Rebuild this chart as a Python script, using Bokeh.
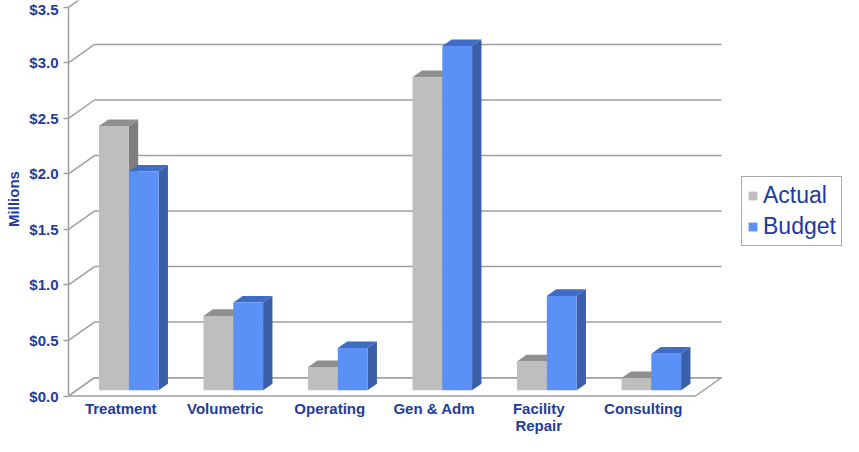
from bokeh.plotting import figure
from bokeh.models import Range1d, FixedTicker, Legend, LegendItem, NumeralTickFormatter
from bokeh.embed import file_html
from bokeh.resources import INLINE

# ---------------- data ----------------
categories = ["Treatment", "Volumetric", "Operating", "Gen & Adm", "Facility Repair", "Consulting"]
tick_labels = ["Treatment", "Volumetric", "Operating", "Gen & Adm", "Facility\nRepair", "Consulting"]
actual = [2.38, 0.67, 0.21, 2.82, 0.26, 0.11]
budget = [1.97, 0.79, 0.38, 3.10, 0.85, 0.33]
series_names = ["Actual", "Budget"]
y_ticks = [0.0, 0.5, 1.0, 1.5, 2.0, 2.5, 3.0, 3.5]

# ---------------- style / geometry ----------------
KX = 104.5          # px per category
KY = 111.9          # px per $1M
DX = 26.0 / KX      # depth of floor (data units)
DY = 18.5 / KY
BAR_F0 = 0.31       # front plane of bars (fraction of depth)
BAR_FD = 0.36       # bar depth (fraction of depth)
BAR_W = 0.285
BAR_OFF = 0.215

front_cols = ["#bebebe", "#5b91f6"]
top_cols = ["#8f8f8f", "#3f6cc4"]
side_cols = ["#7e7e7e", "#3a5ea7"]
grid_col = "#a0a0a0"
text_col = "#1f3c9e"
FONT = "Liberation Sans"

W, H = 843, 436
ML, MB = 66, 36
frame_w = W - ML
frame_h = H - MB
x0 = -2.0 / KX
y0 = -1.5 / KY

p = figure(width=W, height=H, output_backend="svg", toolbar_location=None,
           x_range=Range1d(x0, x0 + frame_w / KX), y_range=Range1d(y0, y0 + frame_h / KY),
           min_border_left=ML, min_border_right=0, min_border_top=0, min_border_bottom=MB)
p.outline_line_color = None
p.xgrid.visible = False
p.ygrid.visible = False
p.background_fill_color = "white"
p.border_fill_color = "white"

n = len(categories)

# floor
p.patch([0, n, n + DX, DX], [0, 0, DY, DY], fill_color="white", line_color=grid_col, line_width=1.5)

# gridlines: left-wall diagonal + back wall
xs, ys = [], []
for t in y_ticks:
    xs.append([0, DX, n + DX])
    ys.append([t, t + DY, t + DY])
p.multi_line(xs, ys, line_color=grid_col, line_width=1.5)
# front vertical axis line
p.line([0, 0], [y_ticks[0], y_ticks[-1]], line_color=grid_col, line_width=1.5)

# bars
ox = BAR_F0 * DX
oy = BAR_F0 * DY
bdx = BAR_FD * DX
bdy = BAR_FD * DY
front_renderers = []
for s, vals in enumerate([actual, budget]):
    lefts = [i + BAR_OFF + s * BAR_W + ox for i in range(n)]
    rights = [l + BAR_W for l in lefts]
    tops = [oy + v for v in vals]
    side_x = [[r, r + bdx, r + bdx, r] for r in rights]
    side_y = [[oy, oy + bdy, t + bdy, t] for t in tops]
    top_x = [[l, r, r + bdx, l + bdx] for l, r in zip(lefts, rights)]
    top_y = [[t, t, t + bdy, t + bdy] for t in tops]
    p.patches(side_x, side_y, fill_color=side_cols[s], line_color=None)
    p.patches(top_x, top_y, fill_color=top_cols[s], line_color=None)
    r = p.quad(left=lefts, right=rights, bottom=[oy] * n, top=tops,
               fill_color=front_cols[s], line_color=None)
    front_renderers.append(r)

# axes
ya = p.yaxis[0]
ya.ticker = FixedTicker(ticks=y_ticks)
ya.formatter = NumeralTickFormatter(format="$0.0")
ya.axis_line_color = None
ya.major_tick_line_color = grid_col
ya.major_tick_line_width = 1.5
ya.major_tick_in = 2
ya.major_tick_out = 3
ya.minor_tick_line_color = None
ya.major_label_standoff = 5
ya.major_label_text_font = FONT
ya.major_label_text_font_style = "bold"
ya.major_label_text_font_size = "15px"
ya.major_label_text_color = text_col
ya.axis_label = "Millions"
ya.axis_label_text_font = FONT
ya.axis_label_text_font_style = "bold"
ya.axis_label_text_font_size = "15px"
ya.axis_label_text_color = text_col
ya.axis_label_standoff = 4

xa = p.xaxis[0]
xt = [i + 0.5 for i in range(n)]
xa.ticker = FixedTicker(ticks=xt)
xa.major_label_overrides = {t: lab for t, lab in zip(xt, tick_labels)}
xa.axis_line_color = None
xa.major_tick_line_color = None
xa.minor_tick_line_color = None
xa.major_tick_out = 0
xa.major_tick_in = 0
xa.major_label_standoff = 2
xa.major_label_text_font = FONT
xa.major_label_text_font_style = "bold"
xa.major_label_text_font_size = "15px"
xa.major_label_text_line_height = 1.0
xa.major_label_text_color = text_col

legend = Legend(items=[LegendItem(label=nm, renderers=[r]) for nm, r in zip(series_names, front_renderers)],
                location=(675, 151), orientation="vertical")
legend.glyph_width = 11
legend.glyph_height = 11
legend.label_height = 25
legend.spacing = 4
legend.padding = 5
legend.margin = 0
legend.label_standoff = 5
legend.label_text_font = FONT
legend.label_text_font_size = "23px"
legend.label_text_color = "#1b3aa6"
legend.border_line_color = "#555555"
legend.border_line_width = 1
legend.background_fill_color = "white"
legend.background_fill_alpha = 1.0
p.add_layout(legend)

open("out.html", "w").write(file_html(p, INLINE))
